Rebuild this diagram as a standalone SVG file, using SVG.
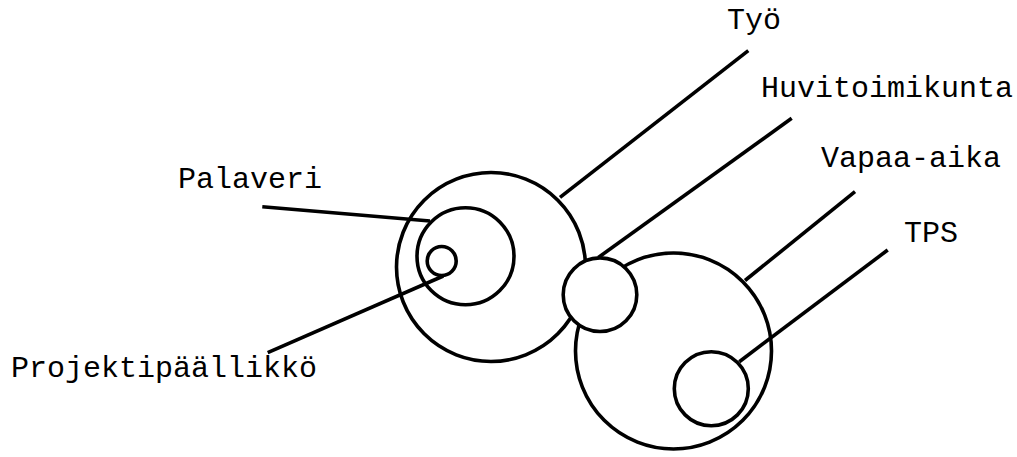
<svg xmlns="http://www.w3.org/2000/svg" width="1017" height="457" viewBox="0 0 1017 457">
<style>
.c{fill:#fff;stroke:#000;stroke-width:3.6}
.l{stroke:#000;stroke-width:3.6;fill:none}
.t{font-family:"Liberation Mono","Courier New",monospace;font-size:30px;fill:#000}
</style>
<rect width="1017" height="457" fill="#fff"/>
<g id="tyo"><circle class="c" cx="491" cy="267" r="94.5"/></g>
<g id="vapaa-aika"><circle class="c" cx="673.5" cy="351" r="98"/></g>
<g id="palaveri"><circle class="c" cx="465.5" cy="256.3" r="48.5"/></g>
<g id="projektipaallikko"><circle class="c" cx="441.7" cy="261" r="14.5"/></g>
<g id="tps"><circle class="c" cx="711.3" cy="388.7" r="37"/></g>
<g id="huvitoimikunta"><circle class="c" cx="600" cy="294.7" r="36.8"/></g>
<g id="connectors">
<line class="l" x1="748.3" y1="50.7" x2="560" y2="197.3"/>
<line class="l" x1="791.7" y1="118.3" x2="598.3" y2="257.5"/>
<line class="l" x1="855" y1="191.7" x2="745" y2="280.5"/>
<line class="l" x1="887.7" y1="250" x2="739.3" y2="361.7"/>
<line class="l" x1="262.3" y1="206.7" x2="430" y2="221"/>
<line class="l" x1="267.7" y1="352.7" x2="443.3" y2="276"/>
</g>
<g id="labels">
<text class="t" x="727" y="28.5">Työ</text>
<text class="t" x="761" y="96.7">Huvitoimikunta</text>
<text class="t" x="821" y="167.3">Vapaa-aika</text>
<text class="t" x="904" y="241.7">TPS</text>
<text class="t" x="178" y="188.3">Palaveri</text>
<text class="t" x="11" y="377.3">Projektipäällikkö</text>
</g>
</svg>
